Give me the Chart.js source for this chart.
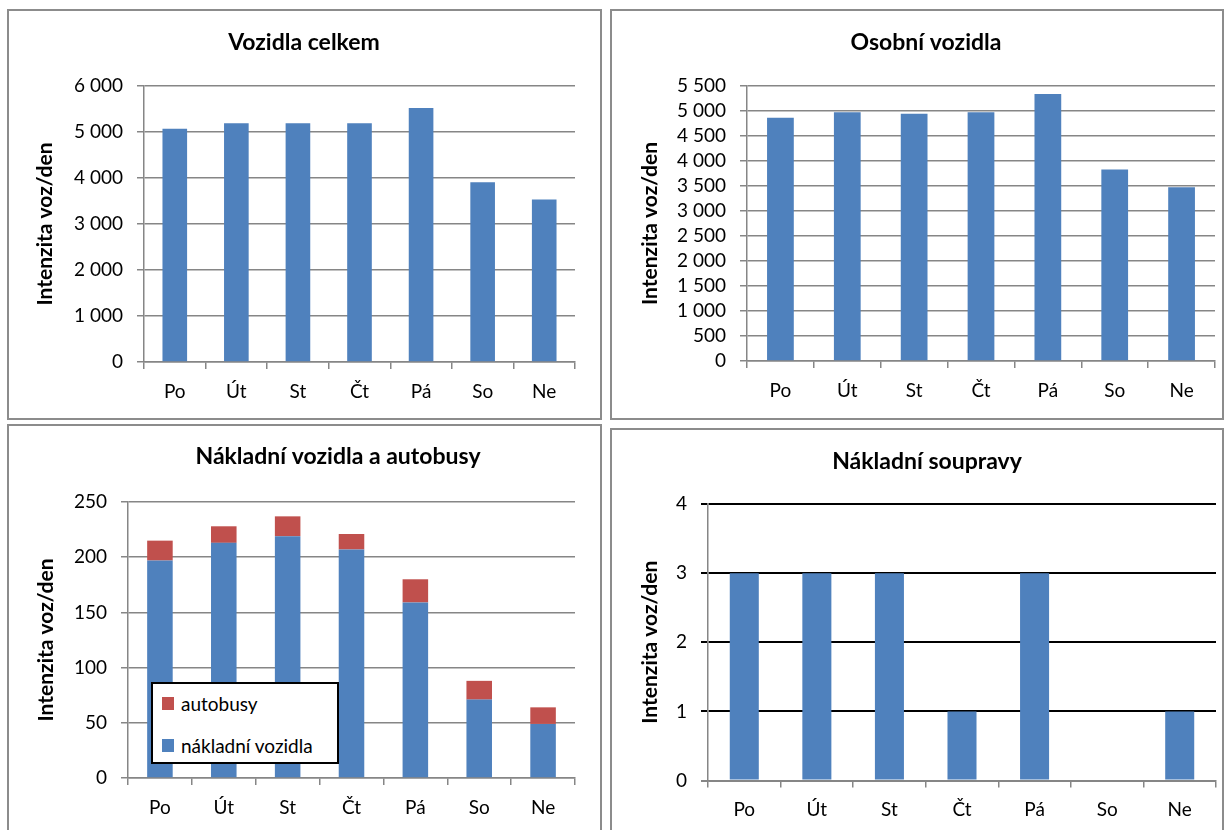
<!DOCTYPE html>
<html lang="cs">
<head>
<meta charset="utf-8">
<title>Intenzita dopravy</title>
<script src="https://cdn.jsdelivr.net/npm/chart.js@4.4.1/dist/chart.umd.min.js"></script>
<style>
  html, body { margin: 0; padding: 0; background: #fff; }
  body { width: 1229px; height: 830px; position: relative; overflow: hidden; font-family: Lato, 'Open Sans', sans-serif; }
  .panel { position: absolute; border: 2px solid #8c8c8c; background: #fff; }
  .panel canvas { display: block; }
  #panel1 { left: 7px; top: 9px; }
  #panel2 { left: 610px; top: 9px; }
  #panel3 { left: 7px; top: 424px; }
  #panel4 { left: 610px; top: 428px; }
  .legend { position: absolute; left: 151px; top: 682px; width: 184px; height: 78px; border: 2px solid #000; background: #fff; }
  .legend-item { display: flex; align-items: center; height: 38px; margin-bottom: 4px; padding-left: 9px; font-size: 19px; color: #000; }
  .legend-item .swatch { width: 12px; height: 13px; margin-right: 7px; }
</style>
</head>
<body>
<div class="panel" id="panel1"><canvas id="chart1"></canvas></div>
<div class="panel" id="panel2"><canvas id="chart2"></canvas></div>
<div class="panel" id="panel3"><canvas id="chart3"></canvas></div>
<div class="panel" id="panel4"><canvas id="chart4"></canvas></div>
<div class="legend" id="legend3"></div>

<script>
// Data (vehicles per day)
const days = ['Po', 'Út', 'St', 'Čt', 'Pá', 'So', 'Ne'];
const vozidlaCelkem = [5070, 5190, 5190, 5190, 5520, 3910, 3530];
const osobniVozidla = [4865, 4975, 4945, 4975, 5340, 3830, 3475];
const nakladniVozidla = [197, 213, 219, 207, 159, 71, 49];
const autobusy = [18, 15, 18, 14, 21, 17, 15];
const nakladniSoupravy = [3, 3, 3, 1, 3, 0, 1];

const GRAY = '#868686';
const BLUE = '#4F81BD';
const RED = '#C0504D';

const TITLE_FONT = { size: 23, weight: 'bold' };
const AXIS_TITLE_FONT = { size: 21, weight: 'bold' };
const TICK_FONT = { size: 19 };

Chart.defaults.font.family = "Lato, 'Open Sans', sans-serif";
Chart.defaults.color = '#000';

// Canvas size and plot rectangle of each panel (pixels inside the panel border)
const layouts = {
    chart1: { w: 591, h: 407, plot: { left: 135, right: 566, top: 75, bottom: 351 }, titleX: 295, titleY: 31.5, yTitleX: 36 },
    chart2: { w: 610, h: 407, plot: { left: 135, right: 603, top: 75, bottom: 350 }, titleX: 314, titleY: 31.5, yTitleX: 38 },
    chart3: { w: 591, h: 410, plot: { left: 119, right: 566, top: 76, bottom: 352 }, titleX: 329, titleY: 31, yTitleX: 37 },
    chart4: { w: 610, h: 406, plot: { left: 96, right: 604, top: 74, bottom: 350.5 }, titleX: 315, titleY: 31.5, yTitleX: 38 }
};

// Excel places the chart titles freely, so move the title box to its spot
const titleShift = {
    id: 'titleShift',
    afterLayout: function(chart) {
        const box = layouts[chart.canvas.id];
        const block = chart.titleBlock;
        const shift = box.titleX - (block.left + block.right) / 2;
        block.left += shift;
        block.right += shift;
    }
};

function formatThousands(value) {
    return String(value).replace(/\B(?=(\d{3})+(?!\d))/g, ' ');
}

function bar(label, data, color) {
    return {
        label: label,
        data: data,
        backgroundColor: color,
        barPercentage: 0.4,
        categoryPercentage: 1.0
    };
}

/**
 * Build one Excel-like bar panel
 */
function createPanelChart(id, title, datasets, yMax, yStep, opts) {
    const box = layouts[id];
    const canvas = document.getElementById(id);
    canvas.width = box.w;
    canvas.height = box.h;

    const stacked = !!opts.stacked;
    const titleLH = TITLE_FONT.size * 1.2;
    const axisLH = AXIS_TITLE_FONT.size * 1.2;

    return new Chart(canvas, {
        type: 'bar',
        data: { labels: days, datasets: datasets },
        plugins: [titleShift],
        options: {
            responsive: false,
            animation: false,
            layout: { padding: { left: 0, right: box.w - box.plot.right, top: 0, bottom: 0 } },
            plugins: {
                legend: { display: false },
                tooltip: { enabled: false },
                title: {
                    display: true,
                    text: title,
                    color: '#000',
                    font: TITLE_FONT,
                    padding: {
                        top: box.titleY - titleLH / 2,
                        bottom: box.plot.top - box.titleY - titleLH / 2
                    }
                }
            },
            scales: {
                x: {
                    stacked: stacked,
                    grid: { offset: true, drawOnChartArea: false, tickLength: 7, color: GRAY, lineWidth: 1.5 },
                    border: { color: GRAY, width: 1.5 },
                    ticks: { font: TICK_FONT, padding: 11, maxRotation: 0 },
                    afterFit: function(scale) { scale.height = box.h - box.plot.bottom; }
                },
                y: {
                    stacked: stacked,
                    min: 0,
                    max: yMax,
                    ticks: { stepSize: yStep, autoSkip: false, font: TICK_FONT, padding: 14, callback: formatThousands },
                    grid: { color: opts.gridColor || GRAY, lineWidth: opts.gridWidth || 1.5, tickLength: 7 },
                    border: { color: GRAY, width: 1.5 },
                    title: {
                        display: true,
                        text: 'Intenzita voz/den',
                        font: AXIS_TITLE_FONT,
                        padding: { top: box.yTitleX - axisLH / 2, bottom: 0 }
                    },
                    afterFit: function(scale) { scale.width = box.plot.left; }
                }
            }
        }
    });
}

function buildLegend(chart, el) {
    chart.data.datasets.slice().reverse().forEach(function(ds) {
        const row = document.createElement('div');
        row.className = 'legend-item';
        const swatch = document.createElement('span');
        swatch.className = 'swatch';
        swatch.style.background = ds.backgroundColor;
        const text = document.createElement('span');
        text.textContent = ds.label;
        row.append(swatch, text);
        el.append(row);
    });
}

createPanelChart('chart1', 'Vozidla celkem',
    [bar('Vozidla celkem', vozidlaCelkem, BLUE)], 6000, 1000, {});

createPanelChart('chart2', 'Osobní vozidla',
    [bar('Osobní vozidla', osobniVozidla, BLUE)], 5500, 500, {});

const trucksChart = createPanelChart('chart3', 'Nákladní vozidla a autobusy',
    [bar('nákladní vozidla', nakladniVozidla, BLUE), bar('autobusy', autobusy, RED)],
    250, 50, { stacked: true });
buildLegend(trucksChart, document.getElementById('legend3'));

createPanelChart('chart4', 'Nákladní soupravy',
    [bar('Nákladní soupravy', nakladniSoupravy, BLUE)], 4, 1, {
        gridColor: function(ctx) { return ctx.tick && ctx.tick.value === 0 ? GRAY : '#000'; },
        gridWidth: 2
    });
</script>
</body>
</html>
